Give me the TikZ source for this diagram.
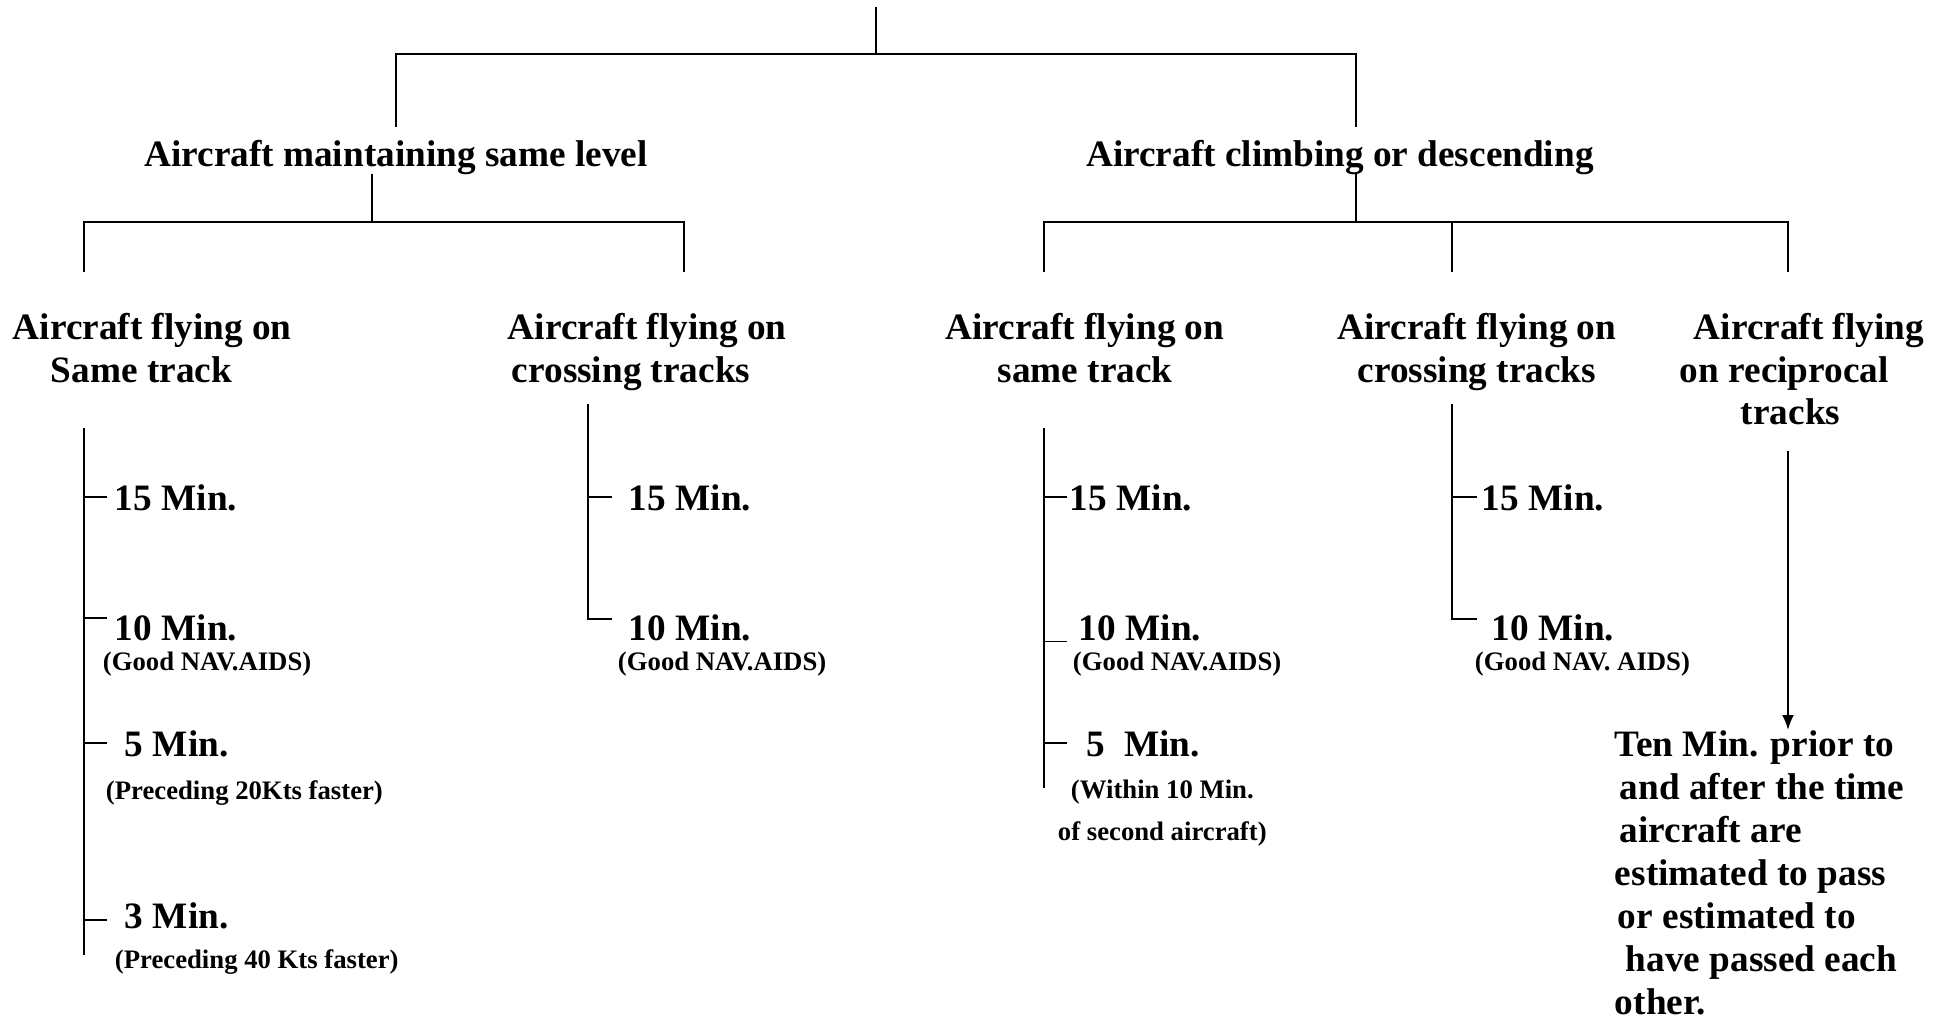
\documentclass[tikz,border=0pt]{standalone}
\usepackage{fontspec}
\setmainfont{Liberation Serif}
\usepackage{tikz}
\usetikzlibrary{arrows.meta}

\begin{document}
\begin{tikzpicture}[
  x=0.1mm, y=-0.1mm, line width=0.55pt,
  head/.style={font=\fontsize{10.6}{12.2}\selectfont\bfseries, inner sep=0pt, anchor=base},
  cat/.style={head, anchor=north},
  mins/.style={head, anchor=base west},
  cond/.style={font=\fontsize{7.6}{9}\selectfont\bfseries, inner sep=0pt, anchor=base west},
  arr/.style={-{Latex[length=1.5mm, width=1.2mm]}}
]
  \useasboundingbox (0,0) rectangle (1946,1018);

  \node[head] (lvl) at (396,166)  {Aircraft maintaining same level};
  \node[head] (clb) at (1340,166) {Aircraft climbing or descending};

  \node[cat, anchor=north west, align=left] (lsame)  at (12,312)   {Aircraft flying on\\\hspace*{3.8mm}Same track};
  \node[cat, anchor=north west, align=left] (lcross) at (507,312)  {Aircraft flying on\\\hspace*{0.4mm}crossing tracks};
  \node[cat, align=center] (csame)  at (1085,312) {Aircraft flying on\\same track};
  \node[cat, align=center] (ccross) at (1477,312) {Aircraft flying on\\crossing tracks};
  \node[cat, anchor=north west, align=left] (crecip) at (1679,312) {\hspace*{1.4mm}Aircraft flying\\on reciprocal\\\hspace*{6.1mm}tracks};

  \coordinate (top)      at (876,7);
  \coordinate (tj)       at (876,54);
  \coordinate (lvlin)    at (396,127);
  \coordinate (clbin)    at (1356,127);
  \coordinate (lvlout)   at (372,174);
  \coordinate (lj)       at (372,222);
  \coordinate (clbout)   at (1356,174);
  \coordinate (cj)       at (1356,222);
  \coordinate (lsamein)  at (84,272);
  \coordinate (lcrossin) at (684,272);
  \coordinate (csamein)  at (1044,272);
  \coordinate (ccrossin) at (1452,272);
  \coordinate (crecipin) at (1788,272);

  \draw (top) -- (tj);
  \draw (lvlin) |- (tj) -| (clbin);
  \draw (lvlout) -- (lj);
  \draw (lsamein) |- (lj) -| (lcrossin);
  \draw (clbout) -- (cj);
  \draw (csamein) |- (cj) -| (crecipin);
  \draw (ccrossin) -- (ccrossin |- cj);

  \node[mins] (m15a) at (114,510) {15 Min.};
  \node[mins] (m10a) at (114,640) {10 Min.};
  \node[cond] (g10a) at (102,670) {(Good NAV.AIDS)};
  \node[mins] (m5a)  at (124,756) {5 Min.};
  \node[cond] (p20)  at (105,799) {(Preceding 20Kts faster)};
  \node[mins] (m3a)  at (124,928) {3 Min.};
  \node[cond] (p40)  at (114,968) {(Preceding 40 Kts faster)};

  \node[mins] (m15b) at (628,510) {15 Min.};
  \node[mins] (m10b) at (628,640) {10 Min.};
  \node[cond] (g10b) at (617,670) {(Good NAV.AIDS)};

  \node[mins] (m15c) at (1069,510) {15 Min.};
  \node[mins] (m10c) at (1078,640) {10 Min.};
  \node[cond] (g10c) at (1072,670) {(Good NAV.AIDS)};
  \node[mins] (m5c)  at (1086,756) {5\ \ Min.};
  \node[cond] (w10)  at (1070,798) {(Within 10 Min.};
  \node[cond] (sec)  at (1057,840) {of second aircraft)};

  \node[mins] (m15d) at (1481,510) {15 Min.};
  \node[mins] (m10d) at (1491,640) {10 Min.};
  \node[cond] (g10d) at (1474,670) {(Good NAV. AIDS)};

  \node[head, anchor=north west, align=left] (ten) at (1614,730)
    {Ten Min. prior to\\\hspace*{0.5mm}and after the time\\\hspace*{0.5mm}aircraft are\\estimated to pass\\\hspace*{0.3mm}or estimated to\\\hspace*{1.1mm}have passed each\\other.};

  \coordinate (st1) at (84,428);
  \coordinate (st2) at (588,404);
  \coordinate (st3) at (1044,428);
  \coordinate (st4) at (1452,404);
  \coordinate (rc)  at (1788,451);

  \draw (st1) -- ++(0,527);
  \draw (st1 |- m15a.west) -- ++(23,0);
  \draw ([yshift=-0.5mm]m10a.north west -| st1) -- ++(23,0);
  \draw (st1 |- m5a.west) -- ++(23,0);
  \draw ([yshift=-0.5mm]m3a.west -| st1) -- ++(23,0);

  \draw (st2 |- m15b.west) -- ++(24,0);
  \draw (st2) -- ([yshift=-0.6mm]m10b.north west -| st2) -- ++(24,0);

  \draw (st3) -- ++(0,360);
  \draw (st3 |- m15c.west) -- ++(23,0);
  \draw (st3 |- m10c.south west) -- ++(23,0);
  \draw (st3 |- m5c.west) -- ++(23,0);

  \draw (st4 |- m15d.west) -- ++(25,0);
  \draw (st4) -- ([yshift=-0.6mm]m10d.north west -| st4) -- ++(25,0);

  \draw[arr] (rc) -- (rc |- ten.north);
\end{tikzpicture}
\end{document}
